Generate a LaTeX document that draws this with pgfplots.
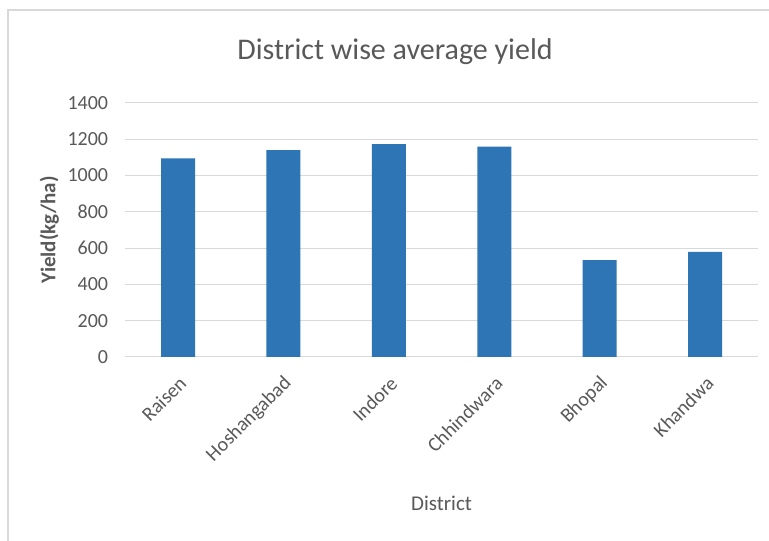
\documentclass[border=0pt]{standalone}
\usepackage{fontspec}
\setmainfont{Carlito}
\usepackage{pgfplots}
\pgfplotsset{compat=1.18}
\definecolor{barblue}{HTML}{2E75B6}
\definecolor{gridgray}{HTML}{D9D9D9}
\definecolor{txtgray}{HTML}{595959}
\begin{document}
\begin{tikzpicture}
\useasboundingbox (0,0) rectangle (769bp,541bp);
\fill[white] (0,0) rectangle (769bp,541bp);
\draw[gridgray, line width=2bp] (8bp,0) -- (8bp,531bp) -- (769bp,531bp);
\node[txtgray, font=\fontsize{30bp}{35bp}\selectfont] at (395bp,489bp) {District wise average yield};
\begin{axis}[
  at={(125.3bp,184bp)}, anchor=south west,
  scale only axis, width=632.5bp, height=254bp,
  xmin=-0.5, xmax=5.5, ymin=0, ymax=1400,
  ytick={0,200,...,1400},
  xtick={0,1,2,3,4,5},
  xticklabels={Raisen,Hoshangabad,Indore,Chhindwara,Bhopal,Khandwa},
  axis y line*=left,
  y axis line style={draw=none},
  axis x line*=bottom,
  x axis line style={gridgray, line width=1bp, -},
  ymajorgrids, grid style={gridgray, line width=1bp},
  major tick length=0pt,
  /pgf/number format/assume math mode=true,
  /pgf/number format/1000 sep={},
  yticklabel style={txtgray, font=\fontsize{20bp}{24bp}\selectfont, inner sep=0pt, xshift=-17bp},
  xticklabel style={txtgray, font=\fontsize{20bp}{24bp}\selectfont, inner sep=0pt, xshift=5bp, yshift=-23bp, rotate=45, anchor=east},
  ylabel={\bfseries Yield(kg/ha)},
  ylabel style={txtgray, font=\fontsize{21bp}{25bp}\selectfont, at={(axis description cs:-0.12,0.5)}, anchor=center},
  xlabel={District},
  xlabel style={txtgray, font=\fontsize{21bp}{25bp}\selectfont, at={(axis description cs:0.5,-0.575)}, anchor=center},
]
\addplot[ybar, bar width=34bp, fill=barblue, draw=none] coordinates {
  (0,1095) (1,1140) (2,1173) (3,1160) (4,534) (5,580)
};
\end{axis}
\end{tikzpicture}
\end{document}
